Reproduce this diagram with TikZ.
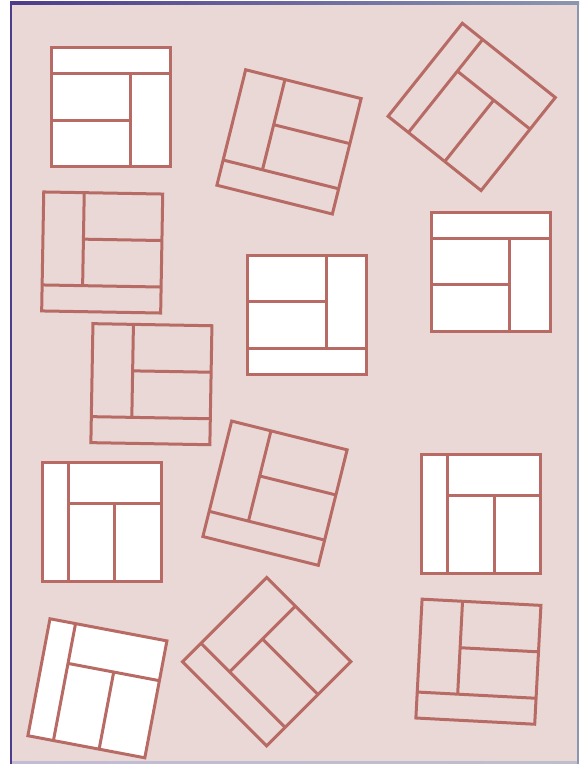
\documentclass[tikz,border=0pt]{standalone}
\usepackage{xcolor}
\usepackage{tikz}
\definecolor{wall}{HTML}{B86A65}
\definecolor{paper}{HTML}{E9D8D5}
\definecolor{frameleft}{HTML}{4B3C8C}
\definecolor{frameright}{HTML}{8C96B0}
\definecolor{framelow}{HTML}{C2BCD6}
\definecolor{framelowright}{HTML}{BCBFCB}
\tikzset{
  wallline/.style={draw=wall, line width=3pt},
  % one room plan: strip on the bottom, narrow column right
  pics/plan/.style={code={
    \draw[wallline, fill=#1] (-59.5,-59.5) rectangle (59.5,59.5);
    \draw[wallline] (-59.5,-33.5) -- (59.5,-33.5)
                    (19,-33.5) -- (19,59.5)
                    (-59.5,13) -- (19,13);
  }},
}

\begin{document}
\begin{tikzpicture}[x=1pt, y=1pt]
  \useasboundingbox (0,0) rectangle (584,765);

  % sheet and frame
  \fill[paper] (11,2) rectangle (578,762);
  \fill[frameleft] (10,1) rectangle (12.2,763);
  \shade[left color=frameleft, right color=frameright] (10,760.8) rectangle (579,763);
  \fill[frameright] (576.8,1) rectangle (579,763);
  \shade[left color=framelow, right color=framelowright] (12,1) rectangle (577,3);

  % row 1
  \pic[yscale=-1] at (111.2,657.5) {plan=white};
  \pic[rotate=-14, xscale=-1] at (289,623.1) {plan=none};
  \pic[rotate=231.4, xscale=-1] at (471.7,658.1) {plan=none};

  % row 2
  \pic[rotate=-1, xscale=-1] at (102.2,512.5) {plan=none};
  \pic[yscale=-1] at (490.5,493) {plan=white};
  \pic at (307,450) {plan=white};
  \pic[rotate=-1, xscale=-1] at (151.4,380.8) {plan=none};

  % row 3
  \pic[rotate=-90, xscale=-1] at (101.5,242.5) {plan=white};
  \pic[rotate=-14, xscale=-1] at (275,271.8) {plan=none};
  \pic[rotate=-90, xscale=-1] at (481,250.5) {plan=white};

  % row 4
  \pic[rotate=-100.7, xscale=-1] at (97.4,76.7) {plan=white};
  \pic[rotate=-45, xscale=-1] at (266.7,103.3) {plan=none};
  \pic[rotate=-3, xscale=-1] at (478.4,103.3) {plan=none};
\end{tikzpicture}
\end{document}
